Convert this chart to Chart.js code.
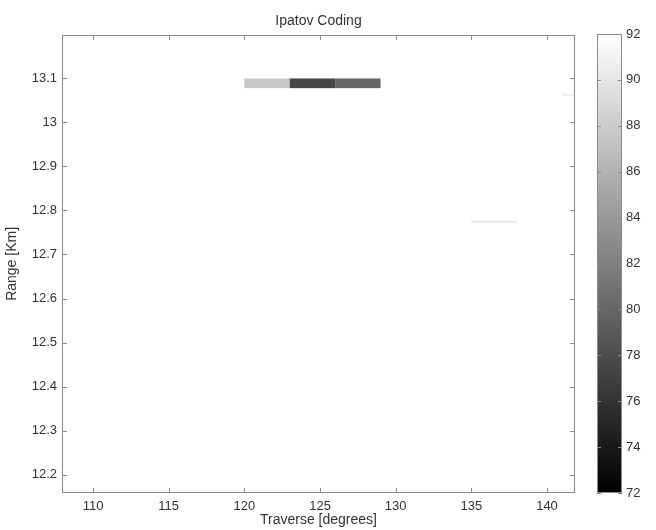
<!DOCTYPE html>
<html>
<head>
<meta charset="utf-8">
<script src="https://cdn.jsdelivr.net/npm/chart.js@4.4.1/dist/chart.umd.min.js"></script>
<style>
  html, body { margin: 0; padding: 0; background: #fff; }
  #wrap { position: relative; width: 656px; height: 530px; overflow: hidden; }
  #mapChart { position: absolute; left: 0; top: 0; }
  #colorBar { position: absolute; left: 596px; top: 0; }
</style>
</head>
<body>
<div id="wrap">
  <canvas id="mapChart" width="656" height="530"></canvas>
  <canvas id="colorBar" width="60" height="530"></canvas>
</div>
<script>
// Range / traverse cells of the Ipatov coded return (level in dB)
const traverseStart = [120, 123, 126, 135, 141.0];
const traverseEnd   = [123, 126, 129, 138, 141.85];
const rangeLow      = [13.077, 13.077, 13.077, 12.771, 13.059];
const rangeHigh     = [13.099, 13.099, 13.099, 12.777, 13.064];
const levels        = [87.5, 77.5, 80, 90.3, 90.8];

const xTicks = [110, 115, 120, 125, 130, 135, 140];
const yTicks = [12.2, 12.3, 12.4, 12.5, 12.6, 12.7, 12.8, 12.9, 13, 13.1];
const cTicks = [72, 74, 76, 78, 80, 82, 84, 86, 88, 90, 92];

const xLimits = [107.95, 141.85];
const yLimits = [12.159, 13.198];
const cLimits = [72, 92];

const FONT = "'Liberation Sans', Arial, Helvetica, sans-serif";
const TXT = '#333';
const AXIS = '#8a8a8a';

// gray colormap: black at the low limit, white at the high one
function grayOf(v) {
  let t = (v - cLimits[0]) / (cLimits[1] - cLimits[0]);
  t = Math.max(0, Math.min(1, t));
  const g = Math.round(t * 255);
  return `rgb(${g},${g},${g})`;
}

const fixTicks = list => scale => { scale.ticks = list.map(v => ({ value: v })); };

// filled cells, clipped to the plot box
const heatCells = {
  id: 'heatCells',
  beforeDatasetsDraw(chart) {
    if (chart.canvas.id !== 'mapChart') return;
    const { ctx, chartArea: a, scales: { x, y } } = chart;
    ctx.save();
    ctx.beginPath();
    ctx.rect(a.left, a.top, a.width, a.height);
    ctx.clip();
    levels.forEach((v, i) => {
      const x0 = x.getPixelForValue(traverseStart[i]);
      const x1 = x.getPixelForValue(traverseEnd[i]);
      const y0 = y.getPixelForValue(rangeLow[i]);
      const y1 = y.getPixelForValue(rangeHigh[i]);
      ctx.fillStyle = grayOf(v);
      ctx.fillRect(x0, y1, x1 - x0, y0 - y1);
    });
    ctx.restore();
  }
};

// box around the plot with short inward ticks on every side
const boxAxes = {
  id: 'boxAxes',
  afterDraw(chart) {
    const { ctx, chartArea: a, scales } = chart;
    const len = 5;
    ctx.save();
    ctx.strokeStyle = AXIS;
    ctx.lineWidth = 1;
    ctx.strokeRect(Math.round(a.left) + 0.5, Math.round(a.top) + 0.5,
                   Math.round(a.width) - 1, Math.round(a.height) - 1);
    ctx.beginPath();
    if (scales.x && scales.x.options.display !== false) {
      scales.x.ticks.forEach(t => {
        const px = Math.round(scales.x.getPixelForValue(t.value)) + 0.5;
        ctx.moveTo(px, a.bottom); ctx.lineTo(px, a.bottom - len);
        ctx.moveTo(px, a.top); ctx.lineTo(px, a.top + len);
      });
    }
    if (scales.y) {
      const l = chart.canvas.id === 'colorBar' ? 4 : len;
      scales.y.ticks.forEach(t => {
        const py = Math.round(scales.y.getPixelForValue(t.value)) + 0.5;
        ctx.moveTo(a.left, py); ctx.lineTo(a.left + l, py);
        ctx.moveTo(a.right, py); ctx.lineTo(a.right - l, py);
      });
    }
    ctx.stroke();
    ctx.restore();
  }
};

const tickFont = { family: FONT, size: 13 };
const labelFont = { family: FONT, size: 14 };

new Chart(document.getElementById('mapChart'), {
  type: 'scatter',
  data: { datasets: [{ data: [] }] },
  options: {
    responsive: false,
    animation: false,
    layout: { padding: { left: 0, right: 81, top: 0, bottom: 0 } },
    plugins: {
      legend: { display: false },
      tooltip: { enabled: false },
      title: {
        display: true,
        text: 'Ipatov Coding',
        fullSize: false,
        color: TXT,
        font: { family: FONT, size: 14, weight: 'normal' },
        padding: { top: 13, bottom: 5 }
      }
    },
    scales: {
      x: {
        type: 'linear',
        min: xLimits[0],
        max: xLimits[1],
        grid: { display: false, drawTicks: false },
        border: { display: false },
        ticks: { color: TXT, font: tickFont, padding: 6, maxRotation: 0, autoSkip: false },
        title: { display: true, text: 'Traverse [degrees]', color: TXT, font: labelFont, padding: { top: 0, bottom: 1 } },
        afterBuildTicks: fixTicks(xTicks),
        afterFit: s => { s.height = 37; }
      },
      y: {
        type: 'linear',
        min: yLimits[0],
        max: yLimits[1],
        grid: { display: false, drawTicks: false },
        border: { display: false },
        ticks: {
          color: TXT, font: tickFont, padding: 5, autoSkip: false,
          callback: v => String(Math.round(v * 10) / 10)
        },
        title: { display: true, text: 'Range [Km]', color: TXT, font: labelFont, padding: 4 },
        afterBuildTicks: fixTicks(yTicks),
        afterFit: s => { s.width = 62; }
      }
    }
  },
  plugins: [heatCells, boxAxes]
});

// colour scale beside the map
new Chart(document.getElementById('colorBar'), {
  type: 'bar',
  data: {
    labels: [''],
    datasets: [{
      data: [cLimits],
      barPercentage: 1,
      categoryPercentage: 1,
      borderWidth: 0,
      backgroundColor(c) {
        const chart = c.chart;
        if (!chart.chartArea) return '#888';
        const ys = chart.scales.y;
        const g = chart.ctx.createLinearGradient(0, ys.getPixelForValue(cLimits[0]), 0, ys.getPixelForValue(cLimits[1]));
        g.addColorStop(0, grayOf(cLimits[0]));
        g.addColorStop(1, grayOf(cLimits[1]));
        return g;
      }
    }]
  },
  options: {
    responsive: false,
    animation: false,
    layout: { padding: { left: 1, right: 0, top: 34, bottom: 37 } },
    plugins: { legend: { display: false }, tooltip: { enabled: false } },
    scales: {
      x: { display: false },
      y: {
        position: 'right',
        min: cLimits[0],
        max: cLimits[1],
        grid: { display: false, drawTicks: false },
        border: { display: false },
        ticks: { color: TXT, font: tickFont, padding: 4, autoSkip: false },
        afterBuildTicks: fixTicks(cTicks),
        afterFit: s => { s.width = 34; }
      }
    }
  },
  plugins: [boxAxes]
});
</script>
</body>
</html>
